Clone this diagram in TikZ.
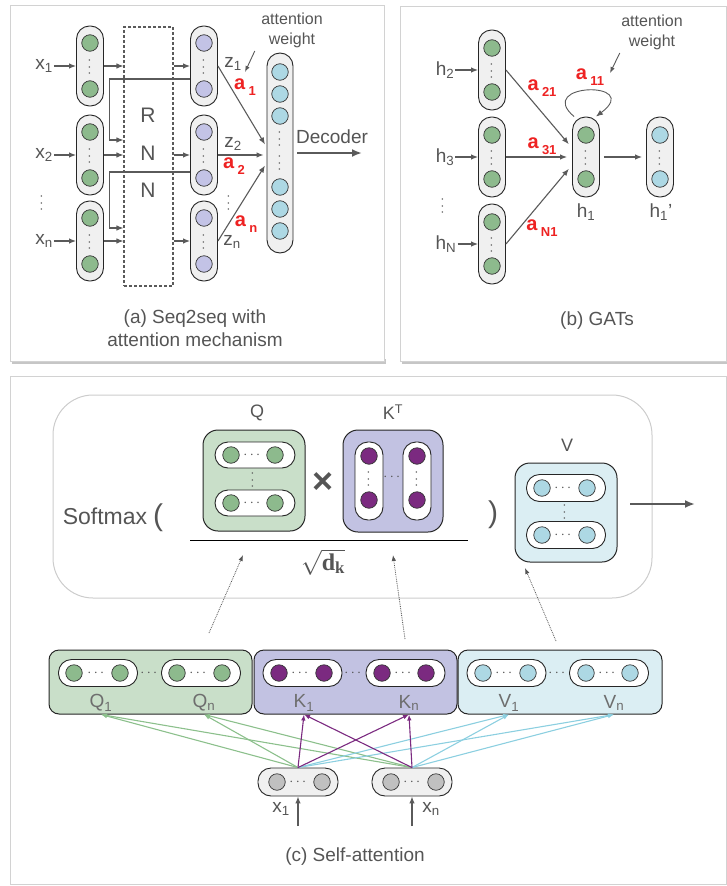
\documentclass[tikz,border=0pt]{standalone}
\usepackage[no-math]{fontspec}
\setmainfont{Liberation Sans}
\newfontfamily\serifbf{Liberation Serif}
\usepackage{amsmath}
\usetikzlibrary{arrows.meta}

\definecolor{txtgray}{HTML}{555555}
\definecolor{lblgray}{HTML}{6E6E6E}
\definecolor{linegray}{HTML}{5A5A5A}
\definecolor{pillgray}{HTML}{F0F0F0}
\definecolor{unitgreen}{HTML}{8DBA8D}
\definecolor{unitlav}{HTML}{C3C3E6}
\definecolor{unitcyan}{HTML}{ADD8E4}
\definecolor{unitpurple}{HTML}{7B2A80}
\definecolor{unitgray}{HTML}{C0C0C0}
\definecolor{qfill}{HTML}{C9DFC9}
\definecolor{kfill}{HTML}{C2C2E2}
\definecolor{vfill}{HTML}{DBEEF3}
\definecolor{wred}{HTML}{EE2222}
\definecolor{qline}{HTML}{8CC08C}
\definecolor{vline}{HTML}{8CCFE0}

\newcommand{\wgt}[1]{a\,\raisebox{-0.3em}{\fontsize{13}{13}\selectfont #1}}

\begin{document}
\begin{tikzpicture}[
        x=1pt, y=-1pt,
        >={Latex[length=7pt,width=5.5pt]},
        panel/.style={draw=gray!35, line width=1pt},
        vpill/.style={draw=black!85, fill=pillgray, rounded corners=13pt, minimum width=27pt, minimum height=80pt, inner sep=0pt, line width=0.9pt},
        hpill/.style={draw=black!85, fill=white, rounded corners=13pt, minimum width=79pt, minimum height=27pt, inner sep=0pt, line width=0.9pt},
        wvpill/.style={vpill, fill=white, minimum width=28pt, minimum height=78pt},
        neuron/.style={circle, draw=black!80, line width=0.7pt, minimum size=16.5pt, inner sep=0pt},
        gneuron/.style={neuron, fill=unitgreen},
        lneuron/.style={neuron, fill=unitlav},
        cneuron/.style={neuron, fill=unitcyan},
        pneuron/.style={neuron, fill=unitpurple},
        xneuron/.style={neuron, fill=unitgray},
        vdotsn/.style={rotate=90, text=txtgray, font=\fontsize{15}{15}\selectfont, inner sep=0pt},
        hdotsn/.style={text=txtgray, font=\fontsize{15}{15}\selectfont, inner sep=0pt},
        rnnbox/.style={draw=linegray, dash pattern=on 3pt off 2pt, line width=1.1pt, minimum width=49pt, minimum height=259pt},
        matbox/.style={draw=black!85, rounded corners=15pt, line width=1pt, minimum width=102pt, minimum height=101pt},
        rowbox/.style={draw=black!85, rounded corners=10pt, line width=1pt, minimum width=203pt, minimum height=64pt},
        lbl/.style={text=txtgray, font=\fontsize{19}{22}\selectfont, inner sep=1pt},
        rowlbl/.style={text=lblgray, font=\fontsize{19}{22}\selectfont, inner sep=1pt},
        wlbl/.style={text=wred, font=\fontsize{20}{22}\selectfont\bfseries, inner sep=1pt},
        notetext/.style={text=txtgray, font=\fontsize{16}{20}\selectfont, align=center},
        caption/.style={text=txtgray, font=\fontsize{19}{23}\selectfont, align=center},
        conn/.style={->, draw=linegray, line width=1.1pt},
        dotconn/.style={->, densely dotted, draw=txtgray, line width=0.8pt, >={Latex[length=6pt,width=4.5pt]}},
        qconn/.style={->, draw=qline, line width=1.1pt, >={Latex[length=6pt,width=4.5pt]}},
        kconn/.style={->, draw=unitpurple, line width=1.1pt, >={Latex[length=6pt,width=4.5pt]}},
        vconn/.style={->, draw=vline, line width=1.1pt, >={Latex[length=6pt,width=4.5pt]}}
    ]

        \useasboundingbox (0,0) rectangle (727,886);

        % Panel frames
        \fill[gray!45] (12,359) rectangle (386,364);
        \fill[gray!45] (402,359) rectangle (727,364);
        \draw[panel, fill=white] (10,5) rectangle (384,361);
        \draw[panel, fill=white] (400,6) rectangle (726,361);
        \draw[panel] (10,376) rectangle (726,884);

        % Panel (a): Seq2seq with attention
        \node[vpill] (in_1) at (90,66) {};
        \node[gneuron] (in_1a) at (90,43) {};
        \node[gneuron] (in_1b) at (90,89) {};
        \node[vdotsn] (in_1d) at (90,66) {$\cdots$};

        \node[vpill] (in_2) at (90,155) {};
        \node[gneuron] (in_2a) at (90,132) {};
        \node[gneuron] (in_2b) at (90,178) {};
        \node[vdotsn] (in_2d) at (90,155) {$\cdots$};

        \node[vpill] (in_3) at (90,241) {};
        \node[gneuron] (in_3a) at (90,218) {};
        \node[gneuron] (in_3b) at (90,264) {};
        \node[vdotsn] (in_3d) at (90,241) {$\cdots$};

        \node[rnnbox] (rnn) at (148.5,156.5) {};
        \node[lbl, font=\fontsize{21}{24}\selectfont] (rnn_r) at (148,115) {R};
        \node[lbl, font=\fontsize{21}{24}\selectfont] (rnn_n1) at (148,153) {N};
        \node[lbl, font=\fontsize{21}{24}\selectfont] (rnn_n2) at (148,190) {N};

        \node[vpill] (z_1) at (204,66) {};
        \node[lneuron] (z_1a) at (204,43) {};
        \node[lneuron] (z_1b) at (204,89) {};
        \node[vdotsn] (z_1d) at (204,66) {$\cdots$};

        \node[vpill] (z_2) at (204,155) {};
        \node[lneuron] (z_2a) at (204,132) {};
        \node[lneuron] (z_2b) at (204,178) {};
        \node[vdotsn] (z_2d) at (204,155) {$\cdots$};

        \node[vpill] (z_3) at (204,241) {};
        \node[lneuron] (z_3a) at (204,218) {};
        \node[lneuron] (z_3b) at (204,264) {};
        \node[vdotsn] (z_3d) at (204,241) {$\cdots$};

        \node[vpill, minimum width=26pt, minimum height=200pt] (dec) at (280,153) {};
        \node[cneuron] (dec_1) at (280,72) {};
        \node[cneuron] (dec_2) at (280,94) {};
        \node[cneuron] (dec_3) at (280,116) {};
        \node[vdotsn] (dec_d1) at (280,138) {$\cdots$};
        \node[vdotsn] (dec_d2) at (280,162) {$\cdots$};
        \node[cneuron] (dec_4) at (280,187) {};
        \node[cneuron] (dec_5) at (280,209) {};
        \node[cneuron] (dec_6) at (280,231) {};

        \node[lbl] (lbl_x1) at (44,66) {x\textsubscript{1}};
        \node[lbl] (lbl_x2) at (44,155) {x\textsubscript{2}};
        \node[lbl] (lbl_xn) at (44,241) {x\textsubscript{n}};
        \node[vdotsn] (lbl_xd) at (42,202) {$\cdots$};
        \node[lbl] (lbl_z1) at (233,64) {z\textsubscript{1}};
        \node[lbl] (lbl_z2) at (233,144) {z\textsubscript{2}};
        \node[lbl] (lbl_zn) at (232,242) {z\textsubscript{n}};
        \node[vdotsn] (lbl_zd) at (229,202) {$\cdots$};

        \draw[conn] (lbl_x1) -- (in_1);
        \draw[conn] (lbl_x2) -- (in_2);
        \draw[conn] (lbl_xn) -- (in_3);
        \draw[conn] (in_1) -- (in_1 -| rnn.west);
        \draw[conn] (in_2) -- (in_2 -| rnn.west);
        \draw[conn] (in_3) -- (in_3 -| rnn.west);
        \draw[conn] (z_1 -| rnn.east) -- (z_1);
        \draw[conn] (z_2 -| rnn.east) -- (z_2);
        \draw[conn] (z_3 -| rnn.east) -- (z_3);
        \draw[conn] ([yshift=-13pt]z_1.west) -| ++(-81,61) -- ([yshift=16.5pt]rnn.west);
        \draw[conn] ([yshift=-17pt]z_2.west) -| ++(-80.5,56) -- ([yshift=-71.5pt]rnn.west);

        \draw[conn, shorten >=3pt] (z_1.east) -- ([yshift=6pt]dec.west);
        \draw[conn, shorten >=3pt] (z_2.east) -- (z_2.east -| dec.west);
        \draw[conn, shorten >=3pt] (z_3.east) -- ([yshift=-10pt]dec.west);

        \node[wlbl] (lbl_a1) at (245,87) {\wgt{1}};
        \node[wlbl] (lbl_a2) at (234,166) {\wgt{2}};
        \node[wlbl] (lbl_an) at (246,224) {\wgt{n}};

        \node[notetext] (attn_a) at (292,30) {attention\\weight};
        \coordinate (attn_a_tip) at (245,72);
        \draw[conn, line width=0.9pt, >={Latex[length=6pt,width=4.5pt]}] ([xshift=-3pt]attn_a.south west) -- (attn_a_tip);

        \node[lbl] (lbl_dec) at (332,137) {Decoder};
        \coordinate (dec_out) at (362,153);
        \draw[conn, line width=2pt, >={Latex[length=10pt,width=8pt]}, shorten <=4pt] (dec.east) -- (dec_out);

        \node[caption] (cap_a) at (195,328) {(a) Seq2seq with\\attention mechanism};

        % Panel (b): GATs
        \node[vpill] (g_2) at (492,70) {};
        \node[gneuron] (g_2a) at (492,48) {};
        \node[gneuron] (g_2b) at (492,92) {};
        \node[vdotsn] (g_2d) at (492,70) {$\cdots$};

        \node[vpill] (g_3) at (492,157) {};
        \node[gneuron] (g_3a) at (492,135) {};
        \node[gneuron] (g_3b) at (492,179) {};
        \node[vdotsn] (g_3d) at (492,157) {$\cdots$};

        \node[vpill] (g_N) at (492,244) {};
        \node[gneuron] (g_Na) at (492,222) {};
        \node[gneuron] (g_Nb) at (492,266) {};
        \node[vdotsn] (g_Nd) at (492,244) {$\cdots$};

        \node[vpill] (h1p) at (586,157) {};
        \node[gneuron] (h1p_a) at (586,135) {};
        \node[gneuron] (h1p_b) at (586,179) {};
        \node[vdotsn] (h1p_d) at (586,157) {$\cdots$};

        \node[vpill] (h1q) at (660,157) {};
        \node[cneuron] (h1q_a) at (660,135) {};
        \node[cneuron] (h1q_b) at (660,179) {};
        \node[vdotsn] (h1q_d) at (660,157) {$\cdots$};

        \node[lbl] (lbl_h2) at (445,70) {h\textsubscript{2}};
        \node[lbl] (lbl_h3) at (445,157) {h\textsubscript{3}};
        \node[lbl] (lbl_hN) at (446,244) {h\textsubscript{N}};
        \node[vdotsn] (lbl_hd) at (443,205) {$\cdots$};
        \node[lbl] (lbl_h1) at (586,212) {h\textsubscript{1}};
        \node[lbl] (lbl_h1q) at (661,212) {h\textsubscript{1}'};

        \draw[conn] (lbl_h2) -- (g_2);
        \draw[conn] (lbl_h3) -- (g_3);
        \draw[conn] (lbl_hN) -- (g_N);
        \draw[conn, shorten >=5pt] (g_2.east) -- ([yshift=9pt]h1p.west);
        \draw[conn, shorten >=5pt] (g_3.east) -- (h1p.west);
        \draw[conn, shorten >=5pt] (g_N.east) -- ([yshift=-8pt]h1p.west);
        \draw[conn, shorten <=4pt, shorten >=4pt] (h1p) -- (h1q);
        \draw[conn, line width=0.9pt] ([xshift=2pt]h1p.north west) .. controls +(-40,-34) and +(48,-36) .. ([xshift=-4pt]h1p.north east);

        \node[wlbl] (lbl_a21) at (542,88) {\wgt{21}};
        \node[wlbl] (lbl_a31) at (542,146) {\wgt{31}};
        \node[wlbl] (lbl_aN1) at (542,228) {\wgt{N1}};
        \node[wlbl] (lbl_a11) at (590,77) {\wgt{11}};

        \node[notetext] (attn_b) at (652,32) {attention\\weight};
        \coordinate (attn_b_tip) at (610,73);
        \draw[conn, line width=0.9pt, >={Latex[length=6pt,width=4.5pt]}] ([xshift=2pt]attn_b.south west) -- (attn_b_tip);

        \node[caption] (cap_b) at (597,321) {(b) GATs};

        % Panel (c): Self-attention
        \node[draw=gray!40, line width=1pt, rounded corners=40pt, minimum width=599pt, minimum height=203pt] (soft_box) at (352.5,496.5) {};
        \node[lbl, font=\fontsize{23}{26}\selectfont] (lbl_soft) at (105,516) {Softmax};
        \node[lbl, font=\fontsize{30}{32}\selectfont] (lbl_lpar) at (158,518) {(};
        \node[lbl, font=\fontsize{30}{32}\selectfont] (lbl_rpar) at (493,515) {)};

        % Q matrix
        \node[matbox, fill=qfill] (q_mat) at (254,480.5) {};
        \node[hpill, minimum width=80pt, minimum height=26pt] (q_mat_r1) at (255,455) {};
        \node[gneuron] (q_mat_r1a) at (231,455) {};
        \node[gneuron] (q_mat_r1b) at (275,455) {};
        \node[hdotsn] (q_mat_r1d) at (253,455) {$\cdots$};
        \node[hpill, minimum width=80pt, minimum height=26pt] (q_mat_r2) at (255,503) {};
        \node[gneuron] (q_mat_r2a) at (231,503) {};
        \node[gneuron] (q_mat_r2b) at (275,503) {};
        \node[hdotsn] (q_mat_r2d) at (253,503) {$\cdots$};
        \node[vdotsn] (q_mat_d) at (253,479) {$\cdots$};
        \node[lbl, font=\fontsize{18}{21}\selectfont] (lbl_q) at (257,413) {Q};

        \node[text=txtgray, font=\fontsize{36}{38}\selectfont\bfseries] (times) at (323,483) {×};

        % K^T matrix
        \node[matbox, fill=kfill, minimum width=100pt, minimum height=102pt] (k_mat) at (393,481) {};
        \node[wvpill] (k_mat_c1) at (369,481) {};
        \node[pneuron] (k_mat_c1a) at (369,456) {};
        \node[pneuron] (k_mat_c1b) at (369,500) {};
        \node[vdotsn] (k_mat_c1d) at (369,478) {$\cdots$};
        \node[wvpill] (k_mat_c2) at (417,481) {};
        \node[pneuron] (k_mat_c2a) at (417,456) {};
        \node[pneuron] (k_mat_c2b) at (417,500) {};
        \node[vdotsn] (k_mat_c2d) at (417,478) {$\cdots$};
        \node[hdotsn] (k_mat_d) at (393,477) {$\cdots$};
        \node[lbl, font=\fontsize{18}{21}\selectfont] (lbl_k) at (393,412) {K\textsuperscript{T}};

        \coordinate (frac_l) at (190,540);
        \coordinate (frac_r) at (468,540);
        \draw[black, line width=1pt] (frac_l) -- (frac_r);
        \node[text=txtgray, font=\fontsize{24}{26}\selectfont] (lbl_sqrt) at (323,562) {$\sqrt{\text{\serifbf\bfseries d}_{\text{\serifbf\bfseries k}}}$};

        % V matrix
        \node[matbox, fill=vfill, minimum height=99pt] (v_mat) at (566,512.5) {};
        \node[hpill] (v_mat_r1) at (566,488) {};
        \node[cneuron] (v_mat_r1a) at (542,488) {};
        \node[cneuron] (v_mat_r1b) at (587,488) {};
        \node[hdotsn] (v_mat_r1d) at (564,488) {$\cdots$};
        \node[hpill] (v_mat_r2) at (566,535) {};
        \node[cneuron] (v_mat_r2a) at (542,535) {};
        \node[cneuron] (v_mat_r2b) at (587,535) {};
        \node[hdotsn] (v_mat_r2d) at (564,535) {$\cdots$};
        \node[vdotsn] (v_mat_d) at (565,511) {$\cdots$};
        \node[lbl, font=\fontsize{18}{21}\selectfont] (lbl_v) at (567,445) {V};

        \coordinate (soft_out_a) at (630,504);
        \coordinate (soft_out_b) at (695,504);
        \draw[conn, line width=2pt, >={Latex[length=10pt,width=8pt]}] (soft_out_a) -- (soft_out_b);

        % Q, K, V rows
        \node[rowbox, fill=qfill] (q_row) at (150.5,682) {};
        \node[hpill] (q_row_1) at (98,673) {};
        \node[gneuron] (q_row_1a) at (74,673) {};
        \node[gneuron] (q_row_1b) at (120,673) {};
        \node[hdotsn] (q_row_1d) at (97,673) {$\cdots$};
        \node[hpill] (q_row_2) at (201,673) {};
        \node[gneuron] (q_row_2a) at (177,673) {};
        \node[gneuron] (q_row_2b) at (222,673) {};
        \node[hdotsn] (q_row_2d) at (199,673) {$\cdots$};
        \node[hdotsn] (q_row_d) at (150,673) {$\cdots$};
        \node[rowlbl] (lbl_q1) at (101,703) {Q\textsubscript{1}};
        \node[rowlbl] (lbl_qn) at (204,703) {Q\textsubscript{n}};

        \node[rowbox, fill=kfill] (k_row) at (355.5,682) {};
        \node[hpill] (k_row_1) at (302.5,673) {};
        \node[pneuron] (k_row_1a) at (279,673) {};
        \node[pneuron] (k_row_1b) at (324,673) {};
        \node[hdotsn] (k_row_1d) at (301,673) {$\cdots$};
        \node[hpill] (k_row_2) at (405.5,673) {};
        \node[pneuron] (k_row_2a) at (382,673) {};
        \node[pneuron] (k_row_2b) at (426,673) {};
        \node[hdotsn] (k_row_2d) at (404,673) {$\cdots$};
        \node[hdotsn] (k_row_d) at (354,673) {$\cdots$};
        \node[rowlbl] (lbl_k1) at (304,703) {K\textsubscript{1}};
        \node[rowlbl] (lbl_kn) at (409,703) {K\textsubscript{n}};

        \node[rowbox, fill=vfill, minimum width=204pt] (v_row) at (560,682) {};
        \node[hpill] (v_row_1) at (506.5,673) {};
        \node[cneuron] (v_row_1a) at (483,673) {};
        \node[cneuron] (v_row_1b) at (528,673) {};
        \node[hdotsn] (v_row_1d) at (505,673) {$\cdots$};
        \node[hpill] (v_row_2) at (609,673) {};
        \node[cneuron] (v_row_2a) at (586,673) {};
        \node[cneuron] (v_row_2b) at (630,673) {};
        \node[hdotsn] (v_row_2d) at (608,673) {$\cdots$};
        \node[hdotsn] (v_row_d) at (558,673) {$\cdots$};
        \node[rowlbl] (lbl_v1) at (509,703) {V\textsubscript{1}};
        \node[rowlbl] (lbl_vn) at (614,703) {V\textsubscript{n}};

        % dotted links to the matrices
        \coordinate (dq_from) at (209,633);
        \coordinate (dq_to) at (243,555);
        \coordinate (dk_from) at (405,639);
        \coordinate (dk_to) at (393,555);
        \coordinate (dv_from) at (556,641);
        \coordinate (dv_to) at (525,568);
        \draw[dotconn] (dq_from) -- (dq_to);
        \draw[dotconn] (dk_from) -- (dk_to);
        \draw[dotconn] (dv_from) -- (dv_to);

        % inputs
        \node[hpill, fill=pillgray, minimum width=80pt, minimum height=28pt] (x1p) at (298,782) {};
        \node[xneuron] (x1p_a) at (277,782) {};
        \node[xneuron] (x1p_b) at (322,782) {};
        \node[hdotsn] (x1p_d) at (299,782) {$\cdots$};
        \node[hpill, fill=pillgray, minimum width=80pt, minimum height=28pt] (xnp) at (412,782) {};
        \node[xneuron] (xnp_a) at (391,782) {};
        \node[xneuron] (xnp_b) at (436,782) {};
        \node[hdotsn] (xnp_d) at (413,782) {$\cdots$};

        \node[lbl] (lbl_cx1) at (281,809) {x\textsubscript{1}};
        \node[lbl] (lbl_cxn) at (431,809) {x\textsubscript{n}};
        \coordinate (x1_in) at (298,826);
        \coordinate (xn_in) at (412,826);
        \draw[conn] (x1_in) -- (x1p);
        \draw[conn] (xn_in) -- (xnp);

        \draw[qconn] (x1p.north) -- (q_row.south -| lbl_q1);
        \draw[qconn] (x1p.north) -- (q_row.south -| lbl_qn);
        \draw[qconn] (xnp.north) -- (q_row.south -| lbl_q1);
        \draw[qconn] (xnp.north) -- (q_row.south -| lbl_qn);
        \draw[vconn] (x1p.north) -- (v_row.south -| lbl_v1);
        \draw[vconn] (x1p.north) -- (v_row.south -| lbl_vn);
        \draw[vconn] (xnp.north) -- (v_row.south -| lbl_v1);
        \draw[vconn] (xnp.north) -- (v_row.south -| lbl_vn);
        \draw[kconn] (x1p.north) -- (k_row.south -| lbl_k1);
        \draw[kconn] (x1p.north) -- (k_row.south -| lbl_kn);
        \draw[kconn] (xnp.north) -- (k_row.south -| lbl_k1);
        \draw[kconn] (xnp.north) -- (k_row.south -| lbl_kn);

        \node[caption] (cap_c) at (355,857) {(c) Self-attention};

    \end{tikzpicture}
\end{document}
